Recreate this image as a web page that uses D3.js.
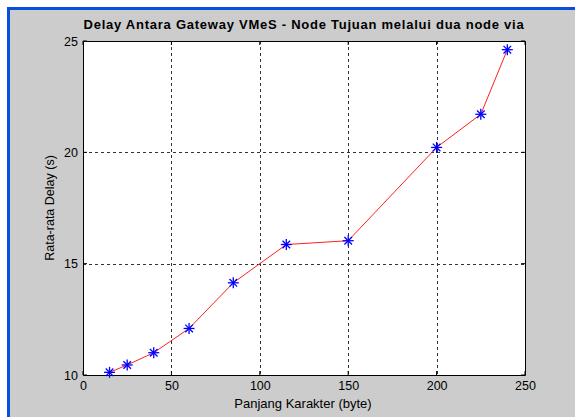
<!DOCTYPE html>
<html>
<head>
<meta charset="utf-8">
<script src="https://cdn.jsdelivr.net/npm/d3@7"></script>
<style>
  body { margin: 0; background: #fff; }
  svg text { font-family: "Liberation Sans", Arial, sans-serif; }
</style>
</head>
<body>
<svg width="575" height="417"></svg>
<script>
const charLength = [15, 25, 40, 60, 85, 115, 150, 200, 225, 240]
const avgDelay = [10.12, 10.45, 11.0, 12.09, 14.14, 15.86, 16.03, 20.22, 21.71, 24.61]
const xTicks = [0, 50, 100, 150, 200, 250]
const yTicks = [10, 15, 20, 25]

const svg = d3.select("svg")

// window frame
svg.append("rect").attr("x", 7).attr("y", 7).attr("width", 568).attr("height", 410).attr("fill", "#cccccc")
svg.append("rect").attr("x", 7).attr("y", 7).attr("width", 568).attr("height", 3).attr("fill", "#0a4ee0")
svg.append("rect").attr("x", 7).attr("y", 7).attr("width", 3).attr("height", 410).attr("fill", "#0a4ee0")

const plotLeft = 83, plotRight = 525, plotTop = 41, plotBottom = 375

const x = d3.scaleLinear().domain([0, 250]).range([plotLeft, plotRight])
const y = d3.scaleLinear().domain([10, 25]).range([plotBottom, plotTop])

svg.append("rect")
    .attr("x", plotLeft).attr("y", plotTop)
    .attr("width", plotRight - plotLeft).attr("height", plotBottom - plotTop)
    .attr("fill", "#fff")

// grid
const grid = svg.append("g").attr("stroke", "#333").attr("stroke-dasharray", "3,3").attr("stroke-width", 1)
xTicks.slice(1, -1).forEach(t => {
    grid.append("line").attr("x1", Math.round(x(t)) + 0.5).attr("x2", Math.round(x(t)) + 0.5)
        .attr("y1", plotTop).attr("y2", plotBottom)
})
yTicks.slice(1, -1).forEach(t => {
    grid.append("line").attr("y1", Math.round(y(t)) + 0.5).attr("y2", Math.round(y(t)) + 0.5)
        .attr("x1", plotLeft).attr("x2", plotRight)
})

// axes
svg.append("g").attr("transform", `translate(0,${plotBottom})`)
    .call(d3.axisBottom(x).tickValues(xTicks).tickSize(0).tickPadding(6))
svg.append("g").attr("transform", `translate(${plotLeft},0)`)
    .call(d3.axisLeft(y).tickValues(yTicks).tickSize(0).tickPadding(5))
svg.append("g").attr("transform", `translate(0,${plotTop})`)
    .call(d3.axisTop(x).tickValues(xTicks).tickSize(0).tickFormat(""))
svg.append("g").attr("transform", `translate(${plotRight},0)`)
    .call(d3.axisRight(y).tickValues(yTicks).tickSize(0).tickFormat(""))

svg.selectAll(".domain").attr("stroke", "#000").attr("stroke-width", 1)
svg.selectAll(".tick text").attr("font-size", 12.5).attr("fill", "#000")
    .style("font-family", "'Liberation Sans', Arial, sans-serif")

// tick marks inside the box
const ticks = svg.append("g").attr("stroke", "#000")
xTicks.forEach(t => {
    ticks.append("line").attr("x1", x(t)).attr("x2", x(t)).attr("y1", plotBottom).attr("y2", plotBottom - 4)
    ticks.append("line").attr("x1", x(t)).attr("x2", x(t)).attr("y1", plotTop).attr("y2", plotTop + 4)
})
yTicks.forEach(t => {
    ticks.append("line").attr("y1", y(t)).attr("y2", y(t)).attr("x1", plotLeft).attr("x2", plotLeft + 4)
    ticks.append("line").attr("y1", y(t)).attr("y2", y(t)).attr("x1", plotRight).attr("x2", plotRight - 4)
})

// data line
const pts = charLength.map((c, i) => [c, avgDelay[i]])
svg.append("path")
    .datum(pts)
    .attr("fill", "none")
    .attr("stroke", "#ff2020")
    .attr("stroke-width", 1)
    .attr("d", d3.line().x(d => x(d[0])).y(d => y(d[1])))

// asterisk markers
const star = svg.append("g").attr("stroke", "#0000ff").attr("stroke-width", 1.3)
pts.forEach(d => {
    const cx = x(d[0]), cy = y(d[1]), r = 5.5, q = 3.8
    star.append("line").attr("x1", cx - r).attr("x2", cx + r).attr("y1", cy).attr("y2", cy)
    star.append("line").attr("x1", cx).attr("x2", cx).attr("y1", cy - r).attr("y2", cy + r)
    star.append("line").attr("x1", cx - q).attr("x2", cx + q).attr("y1", cy - q).attr("y2", cy + q)
    star.append("line").attr("x1", cx - q).attr("x2", cx + q).attr("y1", cy + q).attr("y2", cy - q)
})

// labels
svg.append("text")
    .attr("x", (plotLeft + plotRight) / 2).attr("y", 29)
    .attr("text-anchor", "middle")
    .attr("font-size", 13).attr("font-weight", "bold")
    .attr("letter-spacing", 0.75)
    .text("Delay Antara Gateway VMeS - Node Tujuan melalui dua node via")

svg.append("text")
    .attr("x", (plotLeft + plotRight) / 2 - 1).attr("y", 408)
    .attr("text-anchor", "middle")
    .attr("font-size", 13)
    .text("Panjang Karakter (byte)")

svg.append("text")
    .attr("transform", `translate(54,${(plotTop + plotBottom) / 2}) rotate(-90)`)
    .attr("text-anchor", "middle")
    .attr("font-size", 12.5)
    .text("Rata-rata Delay (s)")
</script>
</body>
</html>
